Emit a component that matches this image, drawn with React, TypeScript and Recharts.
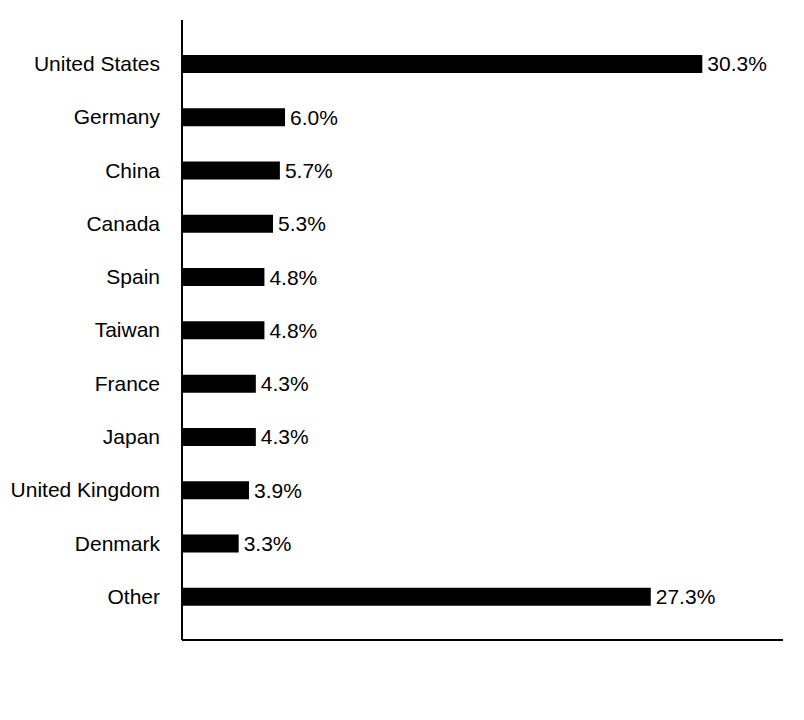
import { BarChart, Bar, XAxis, YAxis, LabelList } from "recharts";

const COUNTRIES = [
  "United States",
  "Germany",
  "China",
  "Canada",
  "Spain",
  "Taiwan",
  "France",
  "Japan",
  "United Kingdom",
  "Denmark",
  "Other",
];

const SHARES = [30.3, 6.0, 5.7, 5.3, 4.8, 4.8, 4.3, 4.3, 3.9, 3.3, 27.3];

const data = COUNTRIES.map((name, i) => ({ name, share: SHARES[i] }));

const FONT = "'Liberation Sans', Arial, sans-serif";

export default function App() {
  return (
    <div style={{ position: "absolute", top: 0, left: 0, width: 804, height: 720, background: "#fff" }}>
      <BarChart
        width={804}
        height={720}
        data={data}
        layout="vertical"
        margin={{ top: 20, right: 21, bottom: 70, left: 0 }}
        barSize={18}
      >
        <XAxis
          type="number"
          domain={[0, 35]}
          tick={false}
          tickLine={false}
          height={10}
          axisLine={{ stroke: "#000", strokeWidth: 2 }}
        />
        <YAxis
          type="category"
          dataKey="name"
          width={182}
          tickLine={false}
          tickSize={0}
          tickMargin={22}
          padding={{ top: 17, bottom: 17 }}
          axisLine={{ stroke: "#000", strokeWidth: 2 }}
          tick={{ fill: "#000", fontSize: 21, fontFamily: FONT }}
        />
        <Bar dataKey="share" fill="#000" isAnimationActive={false}>
          <LabelList
            dataKey="share"
            position="right"
            offset={5}
            fill="#000"
            fontSize={21}
            fontFamily={FONT}
            formatter={(v: number) => `${v.toFixed(1)}%`}
          />
        </Bar>
      </BarChart>
    </div>
  );
}
